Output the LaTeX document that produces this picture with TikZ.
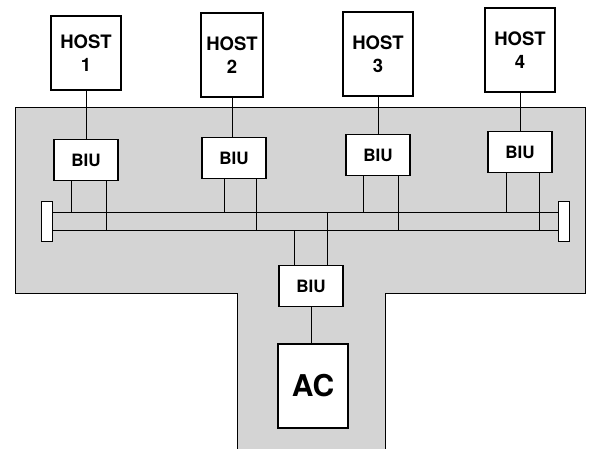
\documentclass[tikz,border=0pt]{standalone}
\usepackage{fontspec}
\setmainfont{TeX Gyre Heros}
\usetikzlibrary{calc}

\begin{document}
\begin{tikzpicture}[
    x=1pt, y=-1pt,
    host/.style={
        rectangle, draw, fill=white,
        line width=1.8pt,
        minimum width=70pt, minimum height=84pt,
        inner sep=0pt, align=center,
        font=\fontsize{18.5}{23}\selectfont\bfseries
    },
    biu/.style={
        rectangle, draw, fill=white,
        line width=1.3pt,
        minimum width=64pt, minimum height=41pt,
        inner sep=0pt,
        font=\fontsize{17}{20}\selectfont\bfseries
    },
    acbox/.style={
        rectangle, draw, fill=white,
        line width=2pt,
        minimum width=70pt, minimum height=84pt,
        inner sep=0pt,
        font=\fontsize{30}{36}\selectfont\bfseries
    },
    term/.style={
        rectangle, draw, fill=white,
        line width=0.8pt,
        minimum width=11pt, minimum height=40pt,
        inner sep=0pt
    },
    wire/.style={line width=0.8pt},
    region/.style={fill=black!17, draw, line width=1pt}
]
\useasboundingbox (0,0) rectangle (592,449);

%% ── Shaded T area ───────────────────────────────────────────────────
\draw[region] (15,108) -- (585,108) -- (585,294) -- (385,294)
    -- (385,449) -- (237,449) -- (237,294) -- (15,294) -- cycle;

%% ── Hosts ───────────────────────────────────────────────────────────
\node[host, minimum height=74pt] (h1) at (86,53)   {HOST\\1};
\node[host, minimum width=62pt]  (h2) at (232,55)  {HOST\\2};
\node[host] (h3) at (378,54) {HOST\\3};
\node[host] (h4) at (520,50) {HOST\\4};

%% ── Bus interface units ─────────────────────────────────────────────
\node[biu] (b1) at (86,160)  {BIU};
\node[biu] (b2) at (234,158) {BIU};
\node[biu] (b3) at (378,155) {BIU};
\node[biu] (b4) at (520,152) {BIU};
\node[biu] (b5) at (311,286) {BIU};

\node[acbox] (ac) at (313,386) {AC};

%% ── Bus terminators ─────────────────────────────────────────────────
\node[term] (tl) at (47,221)  {};
\node[term] (tr) at (564,221) {};

\coordinate (busU) at (0,212);
\coordinate (busL) at (0,230);

\draw[wire] ([yshift=9pt]tl.east)  -- ([yshift=9pt]tr.west);
\draw[wire] ([yshift=-9pt]tl.east) -- ([yshift=-9pt]tr.west);

%% ── Host to BIU ─────────────────────────────────────────────────────
\draw[wire] (h1.south) -- (b1.north);
\draw[wire] (h2.south) -- (h2.south |- b2.north);
\draw[wire] (h3.south) -- (b3.north);
\draw[wire] (h4.south) -- (b4.north);

%% ── BIU drops to the bus ────────────────────────────────────────────
\draw[wire] ([xshift=-15pt]b1.south) -- ([xshift=-15pt]b1.south |- busU);
\draw[wire] ([xshift=20pt]b1.south)  -- ([xshift=20pt]b1.south |- busL);
\draw[wire] ([xshift=-10pt]b2.south) -- ([xshift=-10pt]b2.south |- busU);
\draw[wire] ([xshift=22pt]b2.south)  -- ([xshift=22pt]b2.south |- busL);
\draw[wire] ([xshift=-15pt]b3.south) -- ([xshift=-15pt]b3.south |- busU);
\draw[wire] ([xshift=20pt]b3.south)  -- ([xshift=20pt]b3.south |- busL);
\draw[wire] ([xshift=-14pt]b4.south) -- ([xshift=-14pt]b4.south |- busU);
\draw[wire] ([xshift=19pt]b4.south)  -- ([xshift=19pt]b4.south |- busL);

\draw[wire] ([xshift=-17pt]b5.north) -- ([xshift=-17pt]b5.north |- busL);
\draw[wire] ([xshift=16pt]b5.north)  -- ([xshift=16pt]b5.north |- busU);

%% ── BIU to AC ───────────────────────────────────────────────────────
\draw[wire] (b5.south) -- (b5.south |- ac.north);

\end{tikzpicture}
\end{document}
